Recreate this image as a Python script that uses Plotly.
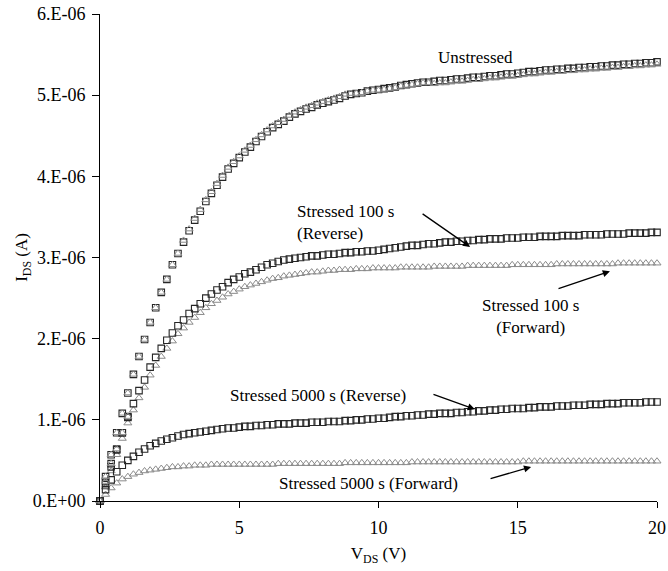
import plotly.graph_objects as go

# ---- data (currents in units of 1e-6 A) ----
V = [0, 0.2, 0.4, 0.6, 0.8, 1.0, 1.2, 1.4, 1.6, 1.8, 2.0, 2.2, 2.4, 2.6, 2.8, 3.0, 3.2, 3.4, 3.6, 3.8,
     4.0, 4.2, 4.4, 4.6, 4.8, 5.0, 5.2, 5.4, 5.6, 5.8, 6.0, 6.2, 6.4, 6.6, 6.8, 7.0, 7.2, 7.4, 7.6, 7.8,
     8.0, 8.2, 8.4, 8.6, 8.8, 9.0, 9.2, 9.4, 9.6, 9.8, 10.0, 10.2, 10.4, 10.6, 10.8, 11.0, 11.2, 11.4, 11.6, 11.8,
     12.0, 12.2, 12.4, 12.6, 12.8, 13.0, 13.2, 13.4, 13.6, 13.8, 14.0, 14.2, 14.4, 14.6, 14.8, 15.0, 15.2, 15.4, 15.6, 15.8,
     16.0, 16.2, 16.4, 16.6, 16.8, 17.0, 17.2, 17.4, 17.6, 17.8, 18.0, 18.2, 18.4, 18.6, 18.8, 19.0, 19.2, 19.4, 19.6, 19.8, 20.0]

unstressed_sq = [0, 0.30, 0.57, 0.84, 1.08, 1.33, 1.56, 1.78, 1.99, 2.20, 2.38, 2.57, 2.73, 2.91, 3.05,
                 3.19, 3.33, 3.46, 3.57, 3.69, 3.79, 3.89, 3.99, 4.09, 4.16, 4.23, 4.30, 4.36, 4.43, 4.49,
                 4.55, 4.60, 4.64, 4.68, 4.73, 4.77, 4.80, 4.83, 4.85, 4.88, 4.90, 4.92, 4.94, 4.96, 4.99,
                 5.01, 5.02, 5.03, 5.05, 5.06, 5.07, 5.08, 5.09, 5.10, 5.12, 5.13, 5.14, 5.15, 5.16, 5.16,
                 5.17, 5.18, 5.18, 5.19, 5.20, 5.20, 5.21, 5.22, 5.22, 5.23, 5.24, 5.24, 5.25, 5.26, 5.26,
                 5.27, 5.28, 5.29, 5.29, 5.30, 5.31, 5.31, 5.32, 5.32, 5.33, 5.33, 5.34, 5.34, 5.35, 5.35,
                 5.36, 5.36, 5.37, 5.37, 5.38, 5.38, 5.39, 5.39, 5.40, 5.40, 5.41]

unstressed_tri = [0, 0.30, 0.57, 0.84, 1.08, 1.33, 1.56, 1.78, 1.99, 2.20, 2.38, 2.57, 2.73, 2.91, 3.05,
                  3.21, 3.35, 3.48, 3.59, 3.71, 3.81, 3.91, 4.01, 4.11, 4.18, 4.25, 4.32, 4.38, 4.45, 4.51,
                  4.57, 4.62, 4.66, 4.70, 4.75, 4.79, 4.82, 4.85, 4.87, 4.90, 4.92, 4.94, 4.96, 4.98, 5.01,
                  5.02, 5.02, 5.03, 5.05, 5.06, 5.06, 5.07, 5.08, 5.09, 5.11, 5.12, 5.13, 5.14, 5.15, 5.15,
                  5.14, 5.15, 5.15, 5.16, 5.17, 5.17, 5.18, 5.19, 5.19, 5.20, 5.21, 5.21, 5.22, 5.23, 5.23,
                  5.24, 5.25, 5.26, 5.26, 5.27, 5.28, 5.28, 5.29, 5.29, 5.30, 5.30, 5.31, 5.31, 5.32, 5.32,
                  5.33, 5.33, 5.34, 5.34, 5.35, 5.35, 5.36, 5.36, 5.37, 5.37, 5.38]

# extra (repeated-bias) low-voltage readings of the unstressed device
unstressed_extra_v = [0.2, 0.4, 0.6, 0.8, 1.0]
unstressed_extra_i = [0.24, 0.46, 0.64, 0.84, 1.04]

s100_rev = [0, 0.20, 0.42, 0.63, 0.84, 1.03, 1.20, 1.36, 1.49, 1.65, 1.77, 1.88, 1.98, 2.07, 2.16,
            2.23, 2.31, 2.37, 2.43, 2.50, 2.55, 2.60, 2.64, 2.69, 2.73, 2.76, 2.80, 2.82, 2.85, 2.88,
            2.91, 2.93, 2.95, 2.97, 2.98, 2.99, 3.00, 3.01, 3.02, 3.02, 3.03, 3.04, 3.04, 3.05, 3.06,
            3.06, 3.07, 3.07, 3.08, 3.08, 3.09, 3.10, 3.11, 3.12, 3.13, 3.14, 3.15, 3.15, 3.16, 3.17,
            3.17, 3.18, 3.19, 3.19, 3.20, 3.20, 3.21, 3.21, 3.22, 3.22, 3.23, 3.23, 3.23, 3.24, 3.24,
            3.24, 3.25, 3.25, 3.25, 3.26, 3.26, 3.26, 3.26, 3.27, 3.27, 3.27, 3.27, 3.28, 3.28, 3.28,
            3.28, 3.29, 3.29, 3.29, 3.29, 3.30, 3.30, 3.30, 3.30, 3.31, 3.31]

s100_fwd = [0, 0.17, 0.37, 0.57, 0.77, 0.96, 1.12, 1.27, 1.40, 1.55, 1.67, 1.78, 1.88, 1.97, 2.06,
            2.13, 2.20, 2.26, 2.32, 2.38, 2.43, 2.47, 2.51, 2.55, 2.58, 2.61, 2.64, 2.66, 2.68, 2.70,
            2.72, 2.74, 2.75, 2.77, 2.78, 2.79, 2.80, 2.81, 2.82, 2.82, 2.83, 2.84, 2.84, 2.85, 2.85,
            2.85, 2.86, 2.86, 2.86, 2.87, 2.87,
            2.87, 2.87, 2.87, 2.88, 2.88, 2.88, 2.88, 2.88, 2.88, 2.89,
            2.89, 2.89, 2.89, 2.89, 2.89, 2.90, 2.90, 2.90, 2.90, 2.90,
            2.90, 2.90, 2.90, 2.91, 2.91, 2.91, 2.91, 2.91, 2.91, 2.91,
            2.91, 2.92, 2.92, 2.92, 2.92, 2.92, 2.92, 2.92, 2.92, 2.92,
            2.92, 2.92, 2.93, 2.93, 2.93, 2.93, 2.93, 2.93, 2.93, 2.93]

s5000_rev = [0, 0.14, 0.26, 0.36, 0.44, 0.50, 0.55, 0.60, 0.64, 0.68, 0.71, 0.74, 0.76, 0.78, 0.80,
             0.82, 0.83, 0.84, 0.85, 0.86, 0.87,
             0.88, 0.89, 0.90, 0.90, 0.91, 0.92, 0.92, 0.93, 0.93, 0.94,
             0.94, 0.95, 0.95, 0.95, 0.96, 0.96, 0.96, 0.97, 0.97, 0.97,
             0.98, 0.98, 0.98, 0.99, 0.99, 1.00, 1.00, 1.01, 1.01, 1.02,
             1.02, 1.03, 1.04, 1.04, 1.05, 1.05, 1.06, 1.06, 1.07, 1.07,
             1.08, 1.08, 1.08, 1.09, 1.09, 1.10, 1.10, 1.11, 1.11, 1.12,
             1.12, 1.13, 1.13, 1.14, 1.14, 1.14, 1.15, 1.15, 1.16, 1.16,
             1.16, 1.17, 1.17, 1.17, 1.18, 1.18, 1.18, 1.19, 1.19, 1.19,
             1.20, 1.20, 1.20, 1.21, 1.21, 1.21, 1.21, 1.22, 1.22, 1.22]

s5000_fwd = [0, 0.08, 0.16, 0.22, 0.27, 0.30, 0.33, 0.35, 0.37, 0.38, 0.39, 0.40, 0.41, 0.42, 0.42,
             0.43, 0.43, 0.44, 0.44, 0.44, 0.45,
             0.45, 0.45, 0.45, 0.45, 0.45, 0.45, 0.45, 0.45, 0.45, 0.45,
             0.45, 0.46, 0.46, 0.46, 0.46, 0.46, 0.46, 0.46, 0.46, 0.46,
             0.46, 0.46, 0.46, 0.47, 0.47, 0.47, 0.47, 0.47, 0.47, 0.47,
             0.47, 0.47, 0.47, 0.47, 0.47, 0.48, 0.48, 0.48, 0.48, 0.48,
             0.48, 0.48, 0.48, 0.48, 0.48, 0.48, 0.48, 0.48, 0.48, 0.48,
             0.48, 0.48, 0.48, 0.48, 0.48, 0.49, 0.49, 0.49, 0.49, 0.49,
             0.49, 0.49, 0.49, 0.49, 0.49, 0.49, 0.49, 0.49, 0.49, 0.49,
             0.49, 0.49, 0.49, 0.49, 0.49, 0.49, 0.49, 0.49, 0.49, 0.49]

x_tickvals = [0, 5, 10, 15, 20]
y_tickvals = [0, 1e-6, 2e-6, 3e-6, 4e-6, 5e-6, 6e-6]
y_ticktext = ["0.E+00", "1.E-06", "2.E-06", "3.E-06", "4.E-06", "5.E-06", "6.E-06"]

# ---- styling ----
FONT = "Liberation Serif, Times New Roman, serif"
SQ_COLOR = "#262626"
TRI_COLOR = "#8a8a8a"


def amps(vals):
    return [v * 1e-6 for v in vals]


fig = go.Figure()

sq_marker = dict(symbol="square-open", size=6.5, color=SQ_COLOR, line=dict(width=1.1, color=SQ_COLOR))
tri_marker = dict(symbol="triangle-up-open", size=7, color=TRI_COLOR, line=dict(width=1.0, color=TRI_COLOR))

# triangles first (underneath), then squares
fig.add_trace(go.Scatter(x=V, y=amps(s5000_fwd), mode="markers", marker=tri_marker,
                         name="Stressed 5000 s (Forward)", cliponaxis=False))
fig.add_trace(go.Scatter(x=V, y=amps(s100_fwd), mode="markers", marker=tri_marker,
                         name="Stressed 100 s (Forward)", cliponaxis=False))
fig.add_trace(go.Scatter(x=V, y=amps(s5000_rev), mode="markers", marker=sq_marker,
                         name="Stressed 5000 s (Reverse)", cliponaxis=False))
fig.add_trace(go.Scatter(x=V, y=amps(s100_rev), mode="markers", marker=sq_marker,
                         name="Stressed 100 s (Reverse)", cliponaxis=False))
fig.add_trace(go.Scatter(x=V + unstressed_extra_v, y=amps(unstressed_sq + unstressed_extra_i),
                         mode="markers", marker=sq_marker, name="Unstressed (Reverse)", cliponaxis=False))
fig.add_trace(go.Scatter(x=V + unstressed_extra_v, y=amps(unstressed_tri + unstressed_extra_i),
                         mode="markers", marker=tri_marker, name="Unstressed (Forward)", cliponaxis=False))

ann_font = dict(family=FONT, size=17, color="black")
annotations = [
    dict(x=13.5, y=5.46e-6, text="Unstressed", showarrow=False, font=ann_font,
         xanchor="center", yanchor="middle"),
    dict(x=7.0, y=3.43e-6, text="Stressed 100 s<br>(Reverse)", showarrow=False, font=ann_font,
         xanchor="left", yanchor="middle", align="left"),
    dict(x=13.65, y=2.27e-6, text="Stressed 100 s<br>(Forward)", showarrow=False, font=ann_font,
         xanchor="left", yanchor="middle", align="center"),
    dict(x=4.6, y=1.30e-6, text="Stressed 5000 s (Reverse)", showarrow=False, font=ann_font,
         xanchor="left", yanchor="middle"),
    dict(x=6.35, y=0.22e-6, text="Stressed 5000 s (Forward)", showarrow=False, font=ann_font,
         xanchor="left", yanchor="middle"),
]
arrows = [
    ((11.53, 3.55e-6), (13.29, 3.13e-6)),
    ((16.41, 2.61e-6), (18.31, 2.83e-6)),
    ((11.92, 1.32e-6), (13.46, 1.13e-6)),
    ((13.97, 0.27e-6), (15.48, 0.42e-6)),
]
for (tx, ty), (hx, hy) in arrows:
    annotations.append(dict(x=hx, y=hy, ax=tx, ay=ty, xref="x", yref="y", axref="x", ayref="y",
                            text="", showarrow=True, arrowhead=2, arrowsize=1.1, arrowwidth=1.3,
                            arrowcolor="black", standoff=0, startstandoff=0))

fig.update_layout(
    width=668, height=571,
    margin=dict(l=100, r=11, t=14, b=70),
    paper_bgcolor="white", plot_bgcolor="white",
    showlegend=False,
    font=dict(family=FONT, size=18, color="black"),
    annotations=annotations,
)
fig.update_xaxes(range=[0, 20], tickvals=x_tickvals, ticks="outside", ticklen=6, tickcolor="black",
                 showline=True, linecolor="black", linewidth=1, showgrid=False, zeroline=False,
                 automargin=False, ticklabelstandoff=4, tickfont=dict(family=FONT, size=18),
                 title=dict(text="V<sub>DS</sub> (V)", font=dict(family=FONT, size=17), standoff=10))
fig.update_yaxes(range=[0, 6e-6], tickvals=y_tickvals, ticktext=y_ticktext, ticks="outside", ticklen=7,
                 tickcolor="black", showline=True, linecolor="black", linewidth=1, showgrid=False,
                 zeroline=False, automargin=False, ticklabelstandoff=3, tickfont=dict(family=FONT, size=18),
                 title=dict(text="I<sub>DS</sub> (A)", font=dict(family=FONT, size=17), standoff=0))

# remove the browser's default page margin so the figure sits at the window's corner
fig.write_html("out.html", config={"displayModeBar": False},
               post_script="document.body.style.margin='0';")
